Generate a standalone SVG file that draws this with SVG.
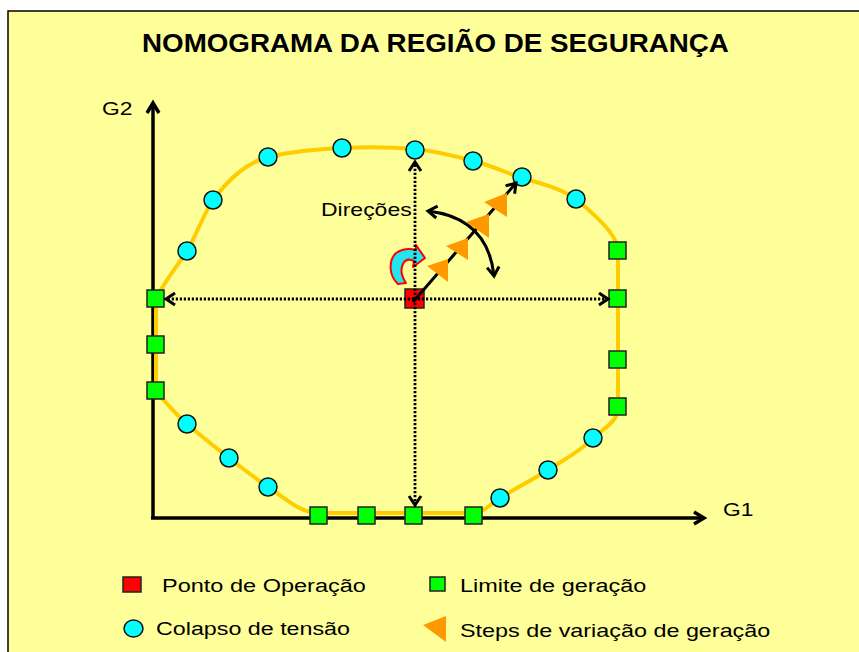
<svg xmlns="http://www.w3.org/2000/svg" width="859" height="652" viewBox="0 0 859 652">
<defs>
<style>
.t{font-family:"Liberation Sans",Arial,sans-serif;fill:#000;}
.circ{fill:#00FFFF;stroke:#111;stroke-width:1.5;}
.sq{fill:#00FF00;stroke:#222;stroke-width:1.5;}
.red{fill:#FF0000;stroke:#222;stroke-width:1.5;}
.tri{fill:#FF9900;}
.dot{fill:none;stroke:#000;stroke-width:2.8;stroke-dasharray:2.2 1.8;}
.axis{fill:none;stroke:#000;stroke-width:3.5;}
</style>
<marker id="chev" markerUnits="userSpaceOnUse" markerWidth="24" markerHeight="24" viewBox="-12 -12 24 24" refX="0" refY="0" orient="auto-start-reverse" overflow="visible">
<path d="M-9,-6 L0,0 L-9,6" fill="none" stroke="#000" stroke-width="3" stroke-dasharray="none"/>
</marker>
<marker id="chevA" markerUnits="userSpaceOnUse" markerWidth="24" markerHeight="24" viewBox="-12 -12 24 24" refX="0" refY="0" orient="auto" overflow="visible">
<path d="M-10,-6 L0,0 L-10,6" fill="none" stroke="#000" stroke-width="3.5"/>
</marker>
</defs>
<rect x="0" y="0" width="859" height="652" fill="#FFFFFF"/>
<rect x="8" y="11" width="862" height="652" fill="#FFFF99" stroke="#000" stroke-width="1.5"/>
<text class="t" transform="translate(142,52) scale(1.089,1)" font-size="25.5" font-weight="bold">NOMOGRAMA DA REGIÃO DE SEGURANÇA</text>
<g id="axes">
<line class="axis" x1="153" y1="519" x2="153" y2="103" marker-end="url(#chevA)"/>
<line class="axis" x1="151" y1="518" x2="704" y2="518" marker-end="url(#chevA)"/>
<text class="t" transform="translate(102,115) scale(1.2,1)" font-size="19">G2</text>
<text class="t" transform="translate(723,516) scale(1.2,1)" font-size="19">G1</text>
</g>
<g id="region">
<path fill="none" stroke="#FFCC00" stroke-width="4" d="M156 299 L156 391 C165 402 176 414 187 424 C201 436 215 447 229 458 C242 468 255 478 268 487 C285 498 300 513 318 513 L473 513 C482 513 490 505 500 498 C516 488 532 480 548 470 C563 460 580 452 593 438 C608 426 618 420 618 407 L618 251 C618 235 595 215 576 199 C560 188 540 183 521 178 C505 172 490 165 473 161 C455 156 435 151 415 149 C390 147 365 147 342 148 C315 149 290 152 268 157 C245 163 228 180 213 200 C203 215 196 236 187 251 C176 268 162 285 156 299 Z"/>
</g>
<g id="collapse-points">
<circle class="circ" cx="187" cy="424" r="9"/>
<circle class="circ" cx="229" cy="458" r="9"/>
<circle class="circ" cx="268" cy="487" r="9"/>
<circle class="circ" cx="500" cy="498" r="9"/>
<circle class="circ" cx="548" cy="470" r="9"/>
<circle class="circ" cx="593" cy="438" r="9"/>
<circle class="circ" cx="576" cy="199" r="9"/>
<circle class="circ" cx="522" cy="177" r="9"/>
<circle class="circ" cx="473" cy="161" r="9"/>
<circle class="circ" cx="415" cy="150" r="9"/>
<circle class="circ" cx="342" cy="148" r="9"/>
<circle class="circ" cx="268" cy="157" r="9"/>
<circle class="circ" cx="213" cy="200" r="9"/>
<circle class="circ" cx="187" cy="251" r="9"/>
</g>
<g id="generation-limits">
<rect class="sq" x="147" y="290" width="17" height="17"/>
<rect class="sq" x="147" y="336" width="17" height="17"/>
<rect class="sq" x="147" y="382" width="17" height="17"/>
<rect class="sq" x="310" y="507" width="17" height="17"/>
<rect class="sq" x="358" y="507" width="17" height="17"/>
<rect class="sq" x="405" y="507" width="17" height="17"/>
<rect class="sq" x="465" y="507" width="17" height="17"/>
<rect class="sq" x="609" y="398" width="17" height="17"/>
<rect class="sq" x="609" y="351" width="17" height="17"/>
<rect class="sq" x="609" y="290" width="17" height="17"/>
<rect class="sq" x="609" y="242" width="17" height="17"/>
</g>
<g id="operating-point">
<rect class="red" x="405" y="289" width="19" height="19"/>
</g>
<g id="rotation-icon">
<path d="M398 284 C389 276 388 261 396 253 C402 249 409 248 416 250 L416 245 L425 258 L413 267 L414 261 C408 258 405 260 403 264 C400 270 402 277 406 283 Z" fill="#22E5F0" stroke="#FF0000" stroke-width="2" stroke-linejoin="round"/>
</g>
<g id="connectors">
<line class="dot" x1="414" y1="299" x2="166" y2="299" marker-end="url(#chev)"/>
<line class="dot" x1="414" y1="299" x2="608" y2="299" marker-end="url(#chev)"/>
<line class="dot" x1="415" y1="299" x2="415" y2="162" marker-end="url(#chev)"/>
<line class="dot" x1="415" y1="299" x2="415" y2="505" marker-end="url(#chev)"/>
<line x1="413" y1="302" x2="516" y2="183" stroke="#000" stroke-width="3" marker-end="url(#chev)"/>
<path d="M428 211 Q488 218 494 276" fill="none" stroke="#000" stroke-width="3" marker-start="url(#chev)" marker-end="url(#chev)"/>
</g>
<g id="steps">
<polygon class="tri" points="427,266 448,259 448,282"/>
<polygon class="tri" points="446,246 468,238 468,260"/>
<polygon class="tri" points="466,222 489,214 489,238"/>
<polygon class="tri" points="484,202 507,193 507,217"/>
</g>
<text class="t" transform="translate(321,216) scale(1.21,1)" font-size="19">Direções</text>
<g id="legend">
<rect class="red" x="123" y="577" width="18" height="15"/>
<text class="t" transform="translate(162,592) scale(1.238,1)" font-size="19">Ponto de Operação</text>
<ellipse class="circ" cx="133.5" cy="628.5" rx="9.5" ry="8.5"/>
<text class="t" transform="translate(156,635) scale(1.225,1)" font-size="19">Colapso de tensão</text>
<rect class="sq" x="430" y="577" width="15" height="14"/>
<text class="t" transform="translate(460,592) scale(1.235,1)" font-size="19">Limite de geração</text>
<polygon class="tri" points="423,625 446,616 446,642"/>
<text class="t" transform="translate(460,637) scale(1.23,1)" font-size="19">Steps de variação de geração</text>
</g>
</svg>
